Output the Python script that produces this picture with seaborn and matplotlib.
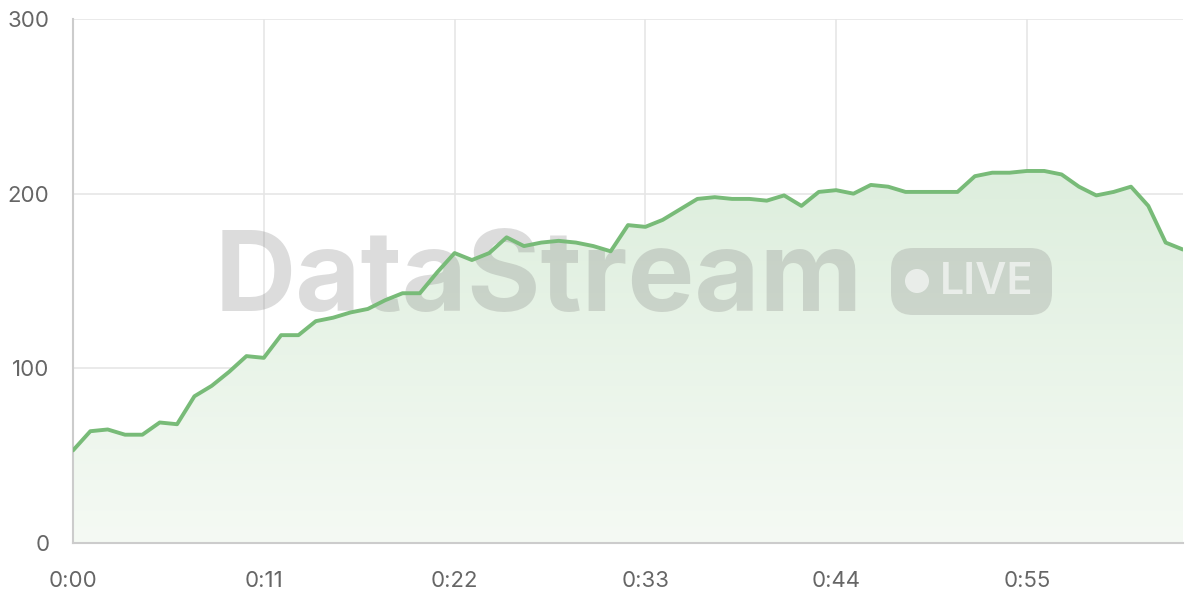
import numpy as np
import pandas as pd
import matplotlib
matplotlib.use("Agg")
import matplotlib.pyplot as plt
from matplotlib.patches import FancyBboxPatch, Circle
from matplotlib.transforms import Affine2D
import seaborn as sns

# seconds since start, and the reading at each second
seconds = list(range(65))
values = [53, 64, 65, 62, 62, 69, 68, 84, 90, 98,
          107, 106, 119, 119, 127, 129, 132, 134, 139, 143,
          143, 155, 166, 162, 166, 175, 170, 172, 173, 172,
          170, 167, 182, 181, 185, 191, 197, 198, 197, 197,
          196, 199, 193, 201, 202, 200, 205, 204, 201, 201,
          201, 201, 210, 212, 212, 213, 213, 211, 204, 199,
          201, 204, 193, 172, 168]
x_ticks = [0, 11, 22, 33, 44, 55]
x_labels = ["0:00", "0:11", "0:22", "0:33", "0:44", "0:55"]
y_ticks = [0, 100, 200, 300]

df = pd.DataFrame({"t": seconds, "v": values})

sns.set_style("white")
plt.rcParams['font.family'] = ['Inter', 'DejaVu Sans']

fig = plt.figure(figsize=(12, 6), dpi=100)
ax = fig.add_axes([73/1200, 57/600, 1110/1200, 524/600])

line_col = "#78bb78"

# gradient fill under the line
poly = ax.fill_between(df.t, df.v, 0, color="none")
grad = np.linspace(0, 1, 256).reshape(-1, 1)
cmap = matplotlib.colors.LinearSegmentedColormap.from_list(
    "g", ["#f5faf4", "#ddeedd"])
img = ax.imshow(grad, cmap=cmap, aspect="auto", origin="lower",
                extent=[0, 64, 0, 215], zorder=1)
img.set_clip_path(poly.get_paths()[0], transform=ax.transData)

sns.lineplot(data=df, x="t", y="v", ax=ax, color=line_col, linewidth=2.8, zorder=5)

ax.set_xlim(0, 64)
ax.set_ylim(0, 300)
ax.set_xticks(x_ticks)
ax.set_xticklabels(x_labels)
ax.set_yticks(y_ticks)
ax.set_xlabel("")
ax.set_ylabel("")
ax.grid(True, color="#e6e6e6", linewidth=1.2, zorder=0)
ax.set_axisbelow(True)
for s in ["top", "right"]:
    ax.spines[s].set_visible(False)
for s in ["left", "bottom"]:
    ax.spines[s].set_color("#cccccc")
    ax.spines[s].set_linewidth(1.5)
ax.tick_params(axis="both", length=11, color="#e6e6e6", width=1.2,
               labelsize=16, labelcolor="#666666", pad=6)
ax.tick_params(axis="x", pad=9)

# watermark
ax.text(0.42, 0.50, "DataStream", transform=ax.transAxes, fontsize=81,
        fontweight="bold", color="#808080", alpha=0.27, ha="center",
        va="center", zorder=4, family=["Inter", "DejaVu Sans"])

# LIVE pill, placed in pixel coordinates measured from the top
px = Affine2D().scale(1, -1).translate(0, 600)
pill = FancyBboxPatch((891, 248), 161, 67,
                      boxstyle="round,pad=0,rounding_size=22",
                      facecolor="#808080", alpha=0.25, edgecolor="none",
                      transform=px, clip_on=False, zorder=4)
ax.add_patch(pill)
ax.add_patch(Circle((917, 281), 12, facecolor="white", alpha=0.6,
                    edgecolor="none", transform=px, clip_on=False, zorder=4))
ax.text(987, 282, "LIVE", fontsize=31, fontweight="semibold", color="white",
        alpha=0.6, ha="center", va="center", transform=px, zorder=4,
        family=["Inter", "DejaVu Sans"])

fig.savefig("out.png", dpi=100)
